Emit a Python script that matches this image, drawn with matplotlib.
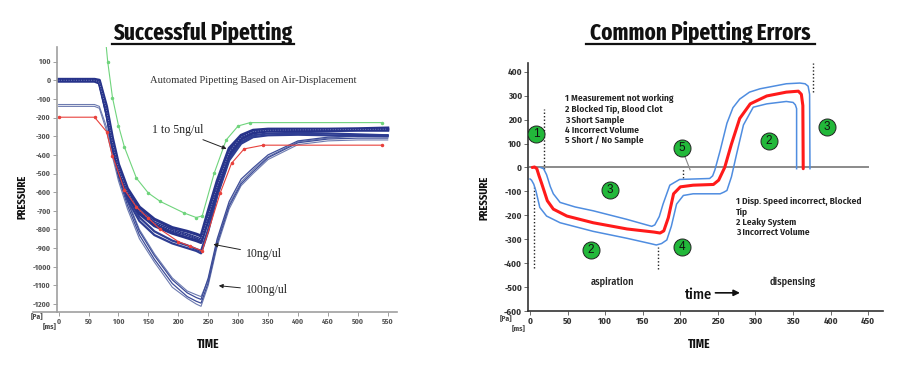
import matplotlib.pyplot as plt
from matplotlib.lines import Line2D

# ---------------- left panel data (successful pipetting) ----------------
left_x = [0, 60, 68, 80, 90, 100, 115, 135, 160, 190, 215, 230, 238, 250, 265, 285, 305, 325, 350, 400, 450, 500, 550]

# 1 to 5 ng/ul bundle
a1 = [5, 5, 0, -140, -310, -450, -580, -680, -745, -790, -810, -825, -835, -700, -540, -365, -295, -268, -262, -262, -262, -260, -256]
a2 = [0, 0, -10, -160, -335, -470, -600, -700, -765, -805, -828, -845, -855, -730, -570, -385, -305, -275, -268, -266, -265, -264, -262]
a3 = [-5, -5, -15, -175, -350, -490, -615, -715, -780, -820, -845, -860, -870, -750, -590, -400, -315, -282, -272, -270, -270, -268, -268]
# 10 ng/ul bundle
b1 = [0, 0, -10, -165, -340, -480, -620, -735, -810, -860, -885, -905, -915, -800, -610, -420, -330, -295, -285, -282, -285, -290, -295]
b2 = [5, 5, -5, -170, -345, -495, -640, -755, -830, -875, -900, -915, -928, -810, -620, -430, -340, -305, -295, -292, -295, -298, -300]
# 100 ng/ul bundle
c1 = [-130, -130, -140, -250, -380, -500, -640, -800, -930, -1060, -1130, -1150, -1160, -1070, -860, -665, -545, -480, -410, -330, -310, -300, -298]
c2 = [0, 0, -20, -200, -380, -520, -670, -830, -960, -1090, -1160, -1185, -1195, -1085, -875, -675, -555, -490, -415, -335, -315, -310, -310]
c3 = [-140, -140, -150, -270, -410, -540, -690, -850, -975, -1110, -1170, -1200, -1212, -1100, -890, -690, -565, -500, -425, -345, -325, -320, -320]
c4 = [0, 0, -15, -190, -365, -505, -650, -810, -940, -1070, -1140, -1165, -1175, -1060, -850, -650, -530, -470, -400, -325, -305, -298, -292]

green_x = [76, 82, 90, 100, 110, 130, 150, 170, 210, 230, 240, 260, 280, 300, 320, 540]
green_y = [300, 100, -93, -243, -359, -525, -605, -650, -712, -736, -727, -498, -320, -245, -227, -227]

red_l_x = [0, 60, 80, 90, 110, 130, 150, 170, 200, 220, 240, 270, 289, 310, 342, 540]
red_l_y = [-198, -198, -275, -405, -587, -680, -740, -800, -865, -890, -915, -605, -445, -368, -348, -348]

# ---------------- right panel data (pipetting errors) ----------------
red_x = [3, 6, 9, 12, 15.5, 23, 31, 49, 84, 129, 165, 173, 178, 184, 191, 200, 217, 244, 251, 259, 268, 279, 293, 315, 341, 357, 361, 363, 363.5]
red_y = [0, 2, -5, -35, -67, -139, -174, -203, -231, -257, -270, -274, -265, -210, -110, -81, -74, -71, -53, 0, 98, 205, 266, 299, 315, 319, 306, 259, -5]

up_x = [14, 18, 22, 27, 31, 40, 60, 84, 129, 155, 162, 166, 172, 177, 186, 199, 239, 243, 246, 253, 262, 270, 279, 292, 306, 341, 359, 366, 370, 372, 372.5]
up_y = [0, -5, -30, -80, -110, -146, -165, -181, -217, -240, -246, -240, -205, -153, -74, -50, -46, -35, -10, 71, 185, 250, 286, 315, 329, 350, 353, 350, 340, 306, -5]

lo_x = [0, 2, 5, 8, 13, 22, 40, 84, 129, 160, 168, 175, 182, 188, 195, 204, 217, 253, 258, 262, 268, 275, 284, 297, 315, 341, 350, 353, 354.7, 354.7]
lo_y = [-48, -53, -70, -100, -167, -203, -231, -267, -296, -318, -324, -318, -303, -246, -153, -117, -110, -110, -103, -96, -39, 58, 178, 252, 266, 276, 272, 262, 246, -5]

circle_x = [8, 106, 81, 202, 202, 318, 395]
circle_y = [138, -96, -343, 82, -331, 111, 168]
circle_lbl = ['1', '3', '2', '5', '4', '2', '3']

dotted_x = [19, 5, 170, 204, 376]
dotted_lo = [-5, -421, -424, -46, 315]
dotted_hi = [246, -81, -331, -3, 436]

xcond = ['Fira Sans Extra Condensed', 'Fira Sans Condensed', 'DejaVu Sans']
cond = ['Fira Sans Condensed', 'Liberation Sans', 'DejaVu Sans']
serif = ['Liberation Serif', 'DejaVu Serif']

fig = plt.figure(figsize=(9, 3.71), dpi=100)

# ---------------- left axes ----------------
ax1 = fig.add_axes([0.0633, 0.1598, 0.3778, 0.7143])
ax1.set_xlim(-2.8, 565.5)
ax1.set_ylim(-1241, 180)

for y in [c1, c3]:
    ax1.plot(left_x, y, color='#6d7bb0', lw=0.8)
for y in [c2, c4]:
    ax1.plot(left_x, y, color='#3d4c98', lw=0.9)
for y in [b1, b2]:
    ax1.plot(left_x, y, color='#2e3d92', lw=1.6)
for y in [a1, a2, a3]:
    ax1.plot(left_x, y, color='#27338a', lw=2.2)
ax1.plot(left_x, a2, color='#8d96c8', lw=0.6, ls=(0, (1, 2)))
ax1.plot(green_x, green_y, color='#6fd47c', lw=0.8, marker='o', ms=1.5)
ax1.plot(red_l_x, red_l_y, color='#e8413c', lw=0.8, marker='o', ms=1.5)

ax1.text(152, 0, 'Automated Pipetting Based on Air-Displacement', family=serif,
         fontsize=7.6, va='center', color='#333333')
ax1.annotate('1 to 5ng/ul', xy=(285, -373), xytext=(156, -266), family=serif,
             fontsize=8.5, va='center', color='#222222',
             arrowprops=dict(arrowstyle='-|>', color='#222222', lw=0.7, mutation_scale=6))
ax1.annotate('10ng/ul', xy=(254, -877), xytext=(313, -932), family=serif,
             fontsize=8.5, va='center', color='#222222',
             arrowprops=dict(arrowstyle='-|>', color='#222222', lw=0.7, mutation_scale=6))
ax1.annotate('100ng/ul', xy=(263, -1100), xytext=(313, -1127), family=serif,
             fontsize=8.5, va='center', color='#222222',
             arrowprops=dict(arrowstyle='-|>', color='#222222', lw=0.7, mutation_scale=6))

ax1.set_xticks(range(0, 551, 50))
ax1.set_yticks(range(-1200, 101, 100))
ax1.set_yticklabels([str(v) for v in range(-1200, 101, 100)])
for s in ['top', 'right']:
    ax1.spines[s].set_visible(False)
for s in ['left', 'bottom']:
    ax1.spines[s].set_color('#a0a0a0')
    ax1.spines[s].set_linewidth(1.2)
ax1.tick_params(length=3, width=0.6, color='#909090', labelsize=5.5, labelcolor='#555555', pad=1.5)
for t in ax1.get_xticklabels() + ax1.get_yticklabels():
    t.set_family(cond)
    t.set_weight('bold')
ax1.add_line(Line2D([-0.07, 0], [0, 0], transform=ax1.transAxes, color='#a0a0a0', lw=1.2, clip_on=False))

# ---------------- right axes ----------------
ax2 = fig.add_axes([0.587, 0.1617, 0.3944, 0.669])
ax2.set_xlim(-2.3, 470)
ax2.set_ylim(-600, 437.6)

ax2.plot([0, 450], [0, 0], color='#8a8a8a', lw=1.4)
for x, lo, hi in zip(dotted_x, dotted_lo, dotted_hi):
    ax2.plot([x, x], [lo, hi], color='#222222', lw=1.0, ls=(0, (1, 1.5)))
ax2.plot(up_x, up_y, color='#4f8de0', lw=1.1)
ax2.plot(lo_x, lo_y, color='#4f8de0', lw=1.1)
ax2.plot(red_x, red_y, color='#ff1a1a', lw=2.2, solid_capstyle='round')
ax2.plot([205, 213], [55, -10], color='#888888', lw=0.8)

ax2.scatter(circle_x, circle_y, s=150, color='#22b83a', edgecolor='#222222', linewidth=0.7, zorder=5)
for x, y, t in zip(circle_x, circle_y, circle_lbl):
    ax2.text(x, y, t, ha='center', va='center', fontsize=8.5, color='#111111', zorder=6,
             family=['Liberation Sans', 'DejaVu Sans'])

ax2.text(46, 306, '1 Measurement not working\n2 Blocked Tip, Blood Clot\n3 Short Sample\n'
         '4 Incorrect Volume\n5 Short / No Sample', va='top', fontsize=6.8, fontweight='semibold',
         family=cond, color='#222222', linespacing=1.2)
ax2.text(274, -122, '1 Disp. Speed incorrect, Blocked\nTip\n2 Leaky System\n3 Incorrect Volume',
         va='top', fontsize=6.8, fontweight='semibold', family=cond, color='#222222', linespacing=1.2)
ax2.text(110, -477, 'aspiration', ha='center', va='center', fontsize=7.4, fontweight='medium',
         family=cond, color='#222222')
ax2.text(349, -477, 'dispensing', ha='center', va='center', fontsize=7.4, fontweight='medium',
         family=cond, color='#222222')
ax2.text(224, -534, 'time', ha='center', va='center', fontsize=10.5, fontweight='medium',
         family=cond, color='#111111')
ax2.annotate('', xy=(283, -524), xytext=(243, -524),
             arrowprops=dict(arrowstyle='-|>', color='#111111', lw=1.2, mutation_scale=9))

ax2.set_xticks(range(0, 451, 50))
ax2.set_yticks(range(-600, 401, 100))
ax2.set_yticklabels([str(v) for v in range(-600, 401, 100)])
for s in ['top', 'right']:
    ax2.spines[s].set_visible(False)
for s in ['left', 'bottom']:
    ax2.spines[s].set_color('#333333')
    ax2.spines[s].set_linewidth(1.2)
ax2.tick_params(length=3, width=0.6, color='#555555', labelsize=6.5, labelcolor='#333333', pad=1.5)
for t in ax2.get_xticklabels() + ax2.get_yticklabels():
    t.set_family(cond)
    t.set_weight('bold')

# ---------------- figure texts ----------------
def px(x, y):
    return x / 900, 1 - y / 371

for (x, y), s in [(px(37, 317), '[Pa]'), (px(50, 327), '[ms]'), (px(506, 319), '[Pa]'), (px(519, 329), '[ms]')]:
    fig.text(x, y, s, ha='center', va='center', fontsize=5.5, fontweight='bold', family=cond, color='#444444')

fig.text(*px(22, 197), 'PRESSURE', rotation=90, ha='center', va='center', fontsize=8.3,
         fontweight='bold', family=xcond, color='#111111')
fig.text(*px(484, 198), 'PRESSURE', rotation=90, ha='center', va='center', fontsize=8.3,
         fontweight='bold', family=xcond, color='#111111')
fig.text(*px(208, 344), 'TIME', ha='center', va='center', fontsize=9,
         fontweight='bold', family=xcond, color='#111111')
fig.text(*px(699, 344), 'TIME', ha='center', va='center', fontsize=9,
         fontweight='bold', family=xcond, color='#111111')

for cx, (x0, x1), title in [(203, (112, 294), 'Successful Pipetting'),
                            (700, (586, 815), 'Common Pipetting Errors')]:
    fig.text(*px(cx, 40), title, ha='center', va='baseline', fontsize=16.5,
             fontweight='bold', family=xcond, color='#111111')
    fig.add_artist(Line2D([x0 / 900, x1 / 900], [1 - 43.5 / 371] * 2, color='#111111', lw=1.6))

fig.savefig('out.png', dpi=100)
